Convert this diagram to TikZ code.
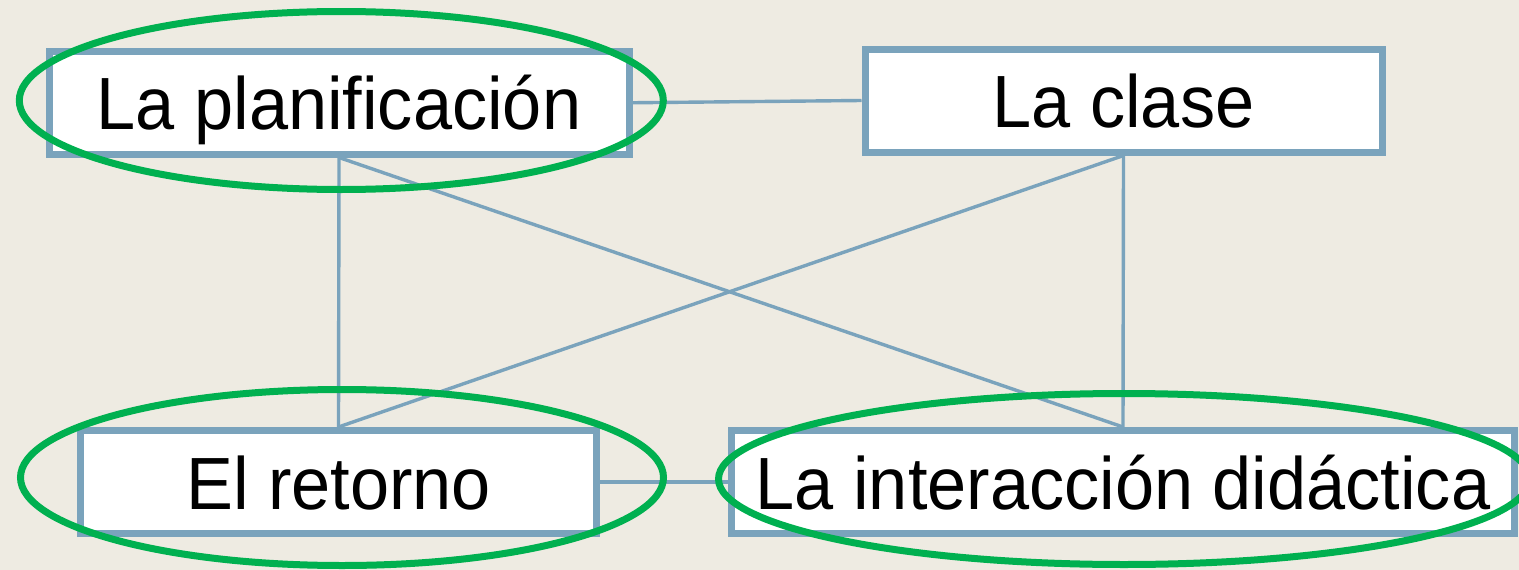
\documentclass[tikz,border=0pt]{standalone}
\usepackage{fontspec}
\setmainfont[FakeStretch=0.95]{Liberation Sans}
\definecolor{bg}{RGB}{238,235,226}
\definecolor{boxline}{RGB}{122,163,188}
\definecolor{hlgreen}{RGB}{0,176,80}
\tikzset{
  topic/.style={draw=boxline, line width=7pt, fill=white, inner sep=0pt,
    font=\fontsize{74}{88}\selectfont, text=black, text height=54pt, text depth=0pt},
  link/.style={draw=boxline, line width=3.4pt},
  hl/.style={draw=hlgreen, line width=7pt}
}
\begin{document}
\begin{tikzpicture}[x=1pt,y=-1pt]
\fill[bg] (0,0) rectangle (1519,570);
\useasboundingbox (0,0) rectangle (1519,570);
\clip (0,0) rectangle (1519,570);
\node[topic, minimum width=580pt, minimum height=102.5pt] (plan) at (339,102.75) {La planificación};
\node[topic, minimum width=517pt, minimum height=103pt] (clase) at (1123.5,100.5) {La clase};
\node[topic, minimum width=516pt, minimum height=103pt] (ret) at (338.5,482) {El retorno};
\node[topic, minimum width=783.5pt, minimum height=103pt] (inter) at (1123,482) {La interacción didáctica};
\draw[link] (plan.east) -- (clase.west);
\draw[link] (plan.south) -- (ret.north);
\draw[link] (plan.south) -- (inter.north);
\draw[link] (clase.south) -- (ret.north);
\draw[link] (clase.south) -- (inter.north);
\draw[link] (ret.east) -- (inter.west);
\draw[hl] (341.3,100.5) ellipse [x radius=322, y radius=89];
\draw[hl] (342,477.5) ellipse [x radius=321.5, y radius=88];
\draw[hl] (1124,479) ellipse [x radius=405.5, y radius=85.5];
\end{tikzpicture}
\end{document}
